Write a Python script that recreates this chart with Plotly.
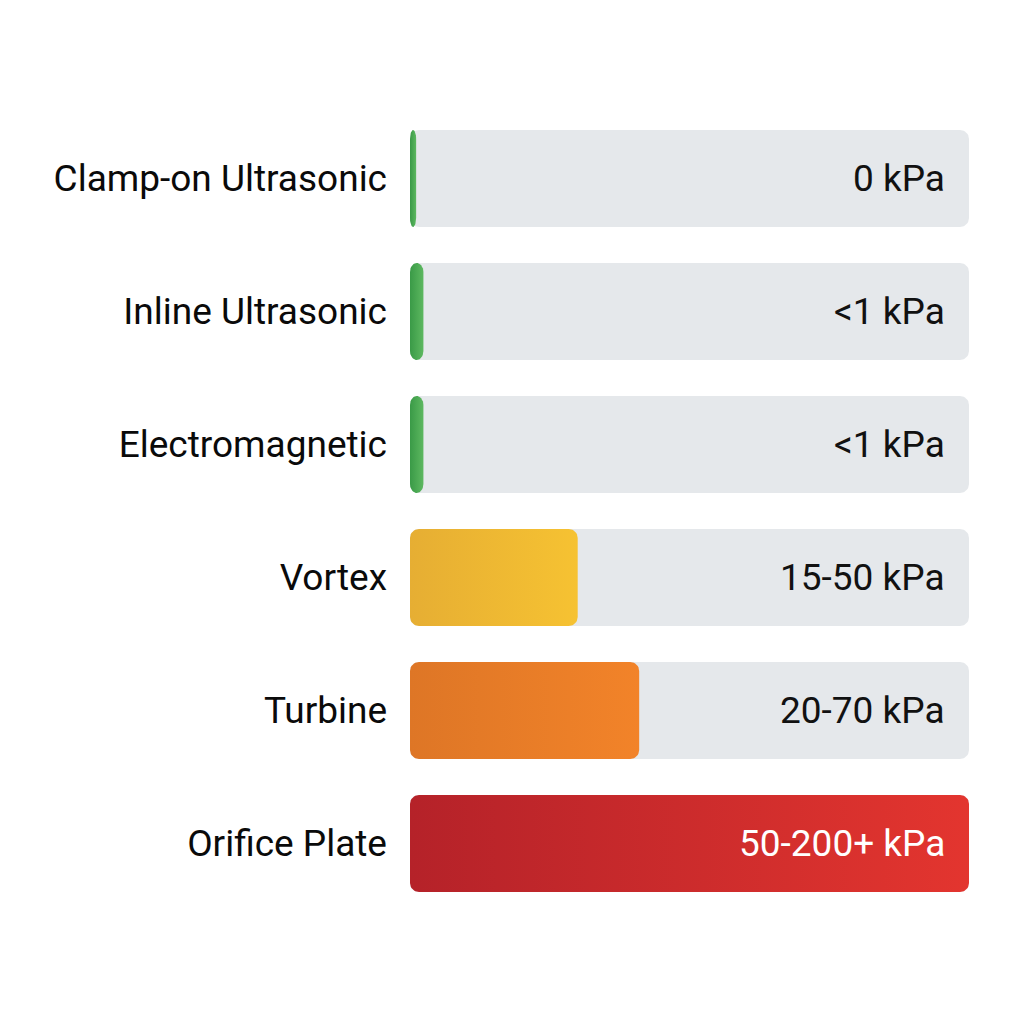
import numpy as np
import plotly.graph_objects as go

# flow meter types, top to bottom
meters = ['Clamp-on Ultrasonic', 'Inline Ultrasonic', 'Electromagnetic',
          'Vortex', 'Turbine', 'Orifice Plate']
# relative pressure loss (bar length, % of scale)
loss_pct = [1.1, 2.4, 2.4, 30, 41, 100]
loss_text = ['0 kPa', '<1 kPa', '<1 kPa', '15-50 kPa', '20-70 kPa', '50-200+ kPa']
# gradient left -> right for each bar
grad_left = ['#3A9A47', '#3A9A47', '#3A9A47', '#E6AE33', '#DE7626', '#B52229']
grad_right = ['#5DB860', '#5DB860', '#5DB860', '#F6C232', '#F28329', '#E3352F']
text_colors = ['#111111'] * 5 + ['#FFFFFF']

# pixel geometry used to keep the rounded corners round
PLOT_W, ROW_PX, RADIUS_PX = 559, 133, 9
BAR_H = 0.73  # bar thickness in row units


def rounded_bar(x0, x1, yc):
    # outline of a rounded rectangle in data units
    rx = min(RADIUS_PX * 100 / PLOT_W, (x1 - x0) / 2)
    ry = RADIUS_PX / ROW_PX
    y0, y1 = yc - BAR_H / 2, yc + BAR_H / 2
    t = np.linspace(0, np.pi / 2, 12)
    xs, ys = [], []
    for cx, cy, a in [(x1 - rx, y1 - ry, 0), (x0 + rx, y1 - ry, np.pi / 2),
                      (x0 + rx, y0 + ry, np.pi), (x1 - rx, y0 + ry, 1.5 * np.pi)]:
        xs += list(cx + rx * np.cos(t + a))
        ys += list(cy + ry * np.sin(t + a))
    xs.append(xs[0])
    ys.append(ys[0])
    return xs, ys


fig = go.Figure()

for i, m in enumerate(meters):
    # grey track
    tx, ty = rounded_bar(0, 100, i)
    fig.add_trace(go.Scatter(
        x=tx, y=ty, mode='lines', fill='toself', fillcolor='#E5E8EB',
        line=dict(width=0), hoverinfo='skip', showlegend=False,
    ))
    # loss bar
    bx, by = rounded_bar(0, loss_pct[i], i)
    fig.add_trace(go.Scatter(
        x=bx, y=by, mode='lines', fill='toself', name=m,
        fillgradient=dict(type='horizontal',
                          colorscale=[[0, grad_left[i]], [1, grad_right[i]]]),
        line=dict(width=0), hoverinfo='name', showlegend=False,
    ))
    fig.add_annotation(
        x=100, y=i, xref='x', yref='y', text=loss_text[i], showarrow=False,
        xanchor='right', xshift=-22,
        font=dict(family='Roboto', size=37, color=text_colors[i]),
    )

fig.update_layout(
    width=1024, height=1024,
    paper_bgcolor='white', plot_bgcolor='white',
    margin=dict(l=402, r=63, t=104, b=122),
    font=dict(family='Roboto', color='#0A0A0A'),
)
fig.update_xaxes(range=[0, 100], visible=False, fixedrange=True)
fig.update_yaxes(
    range=[len(meters) - 0.5, -0.5], tickvals=list(range(len(meters))),
    ticktext=meters, showgrid=False, zeroline=False, showline=False,
    ticks='', ticklabelstandoff=22, fixedrange=True,
    tickfont=dict(size=37, color='#0A0A0A'),
)

fig.write_html("out.html")
